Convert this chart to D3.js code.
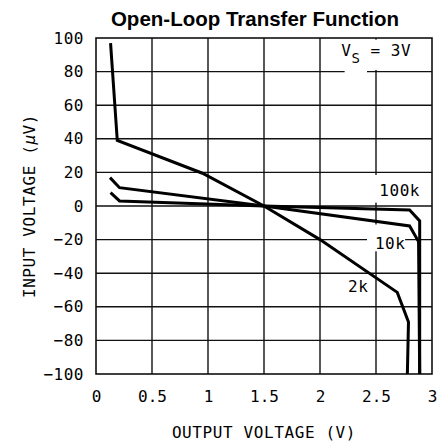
<!DOCTYPE html>
<html>
<head>
<meta charset="utf-8">
<title>Open-Loop Transfer Function</title>
<style>
  body { margin: 0; background: #fff; }
  text { font-family: "DejaVu Sans Mono", monospace; fill: #000; }
  .title { font-family: "Liberation Sans", Arial, sans-serif; font-weight: bold; }
</style>
<script src="https://cdn.jsdelivr.net/npm/d3@7"></script>
</head>
<body>
<script>
  // data (output V, input µV)
  let curveNames = ['2k', '10k', '100k'];
  let vout2k   = [0.13, 0.19, 0.95, 1.5, 2.0, 2.69, 2.79, 2.78];
  let vin2k    = [97, 39, 19.5, 0, -20, -51.4, -69, -100];
  let vout10k  = [0.125, 0.21, 1.5, 2.80, 2.88, 2.89];
  let vin10k   = [16.9, 10.9, 0, -11.9, -21.2, -100];
  let vout100k = [0.13, 0.21, 1.5, 2.80, 2.89, 2.89];
  let vin100k  = [7.9, 3, 0, -2.4, -8.9, -100];

  let xTicks = [0, 0.5, 1, 1.5, 2, 2.5, 3];
  let xTickLabels = ['0', '0.5', '1', '1.5', '2', '2.5', '3'];
  let yTicks = [-100, -80, -60, -40, -20, 0, 20, 40, 60, 80, 100];

  let W = 441, H = 446;
  let mLeft = 96, mRight = 432, mTop = 38, mBottom = 374;
  let fs = '16px';

  let svg = d3.select('body').append('svg')
    .attr('width', W).attr('height', H);

  let x = d3.scaleLinear().domain([0, 3]).range([mLeft, mRight]);
  let y = d3.scaleLinear().domain([-100, 100]).range([mBottom, mTop]);

  // grid lines
  svg.append('g').selectAll('line.v')
    .data(xTicks.slice(1, -1)).enter().append('line')
    .attr('x1', d => x(d)).attr('x2', d => x(d))
    .attr('y1', y(100)).attr('y2', y(-100))
    .attr('stroke', '#111').attr('stroke-width', 1.4);
  svg.append('g').selectAll('line.h')
    .data(yTicks.slice(1, -1)).enter().append('line')
    .attr('x1', x(0)).attr('x2', x(3))
    .attr('y1', d => y(d)).attr('y2', d => y(d))
    .attr('stroke', '#111').attr('stroke-width', 1.4);

  // frame
  svg.append('rect')
    .attr('x', x(0)).attr('y', y(100))
    .attr('width', x(3) - x(0)).attr('height', y(-100) - y(100))
    .attr('fill', 'none').attr('stroke', '#111').attr('stroke-width', 1.6);

  // white gaps behind the labels
  let gaps = [
    [2.22, 2.42, 80.5, 76.5],   // Vs label, horizontal line
    [2.46, 2.54, 99, 81],       // Vs label, vertical line
    [2.46, 2.54, 18.5, 2],      // 100k, vertical line
    [2.42, 2.76, -17.5, -23],   // 10k, horizontal line
    [2.46, 2.54, -11, -27]      // 10k, vertical line
  ];
  svg.append('g').selectAll('rect')
    .data(gaps).enter().append('rect')
    .attr('x', d => x(d[0])).attr('width', d => x(d[1]) - x(d[0]))
    .attr('y', d => y(d[2])).attr('height', d => y(d[3]) - y(d[2]))
    .attr('fill', '#fff');

  // axes
  let xAxis = d3.axisBottom(x).tickValues(xTicks).tickSize(0).tickPadding(17)
    .tickFormat((d, i) => xTickLabels[i]);
  let gx = svg.append('g').attr('transform', 'translate(0,' + mBottom + ')').call(xAxis);
  gx.select('.domain').remove();
  gx.selectAll('text').style('font-family', '"DejaVu Sans Mono", monospace').style('font-size', fs);

  let yAxis = d3.axisLeft(y).tickValues(yTicks).tickSize(0).tickPadding(12)
    .tickFormat(d => d < 0 ? '\u2212' + (-d) : '' + d);
  let gy = svg.append('g').attr('transform', 'translate(' + mLeft + ',0)').call(yAxis);
  gy.select('.domain').remove();
  gy.selectAll('text').style('font-family', '"DejaVu Sans Mono", monospace').style('font-size', fs)
    .style('letter-spacing', '0.5px');

  // curves
  let curves = [
    { name: curveNames[0], xs: vout2k, ys: vin2k },
    { name: curveNames[1], xs: vout10k, ys: vin10k },
    { name: curveNames[2], xs: vout100k, ys: vin100k }
  ];
  let line = d3.line().x(d => x(d[0])).y(d => y(d[1]));
  svg.append('g').selectAll('path')
    .data(curves).enter().append('path')
    .attr('d', c => line(c.xs.map((v, i) => [v, c.ys[i]])))
    .attr('fill', 'none').attr('stroke', '#000')
    .attr('stroke-width', 3).attr('stroke-linejoin', 'miter');

  // curve labels
  let labelPos = { '2k': [2.25, -48], '10k': [2.49, -22], '100k': [2.53, 9] };
  svg.append('g').selectAll('text')
    .data(curveNames).enter().append('text')
    .attr('x', d => x(labelPos[d][0])).attr('y', d => y(labelPos[d][1]))
    .attr('dy', '0.35em')
    .style('font-size', fs).style('letter-spacing', '0.5px')
    .text(d => d);

  // Vs = 3V
  let vs = svg.append('text').attr('x', x(2.19)).attr('y', y(89.5)).style('font-size', fs)
    .style('letter-spacing', '0.5px');
  vs.append('tspan').text('V');
  vs.append('tspan').attr('dy', 7).style('font-size', '14px').text('S');
  vs.append('tspan').attr('dy', -7).text(' = 3V');

  // titles
  svg.append('text').attr('class', 'title')
    .attr('x', 255).attr('y', 26)
    .attr('text-anchor', 'middle').style('font-size', '20.5px')
    .text('Open-Loop Transfer Function');

  svg.append('text')
    .attr('x', (mLeft + mRight) / 2).attr('y', 438)
    .attr('text-anchor', 'middle').style('font-size', fs).style('letter-spacing', '0.6px')
    .text('OUTPUT VOLTAGE (V)');

  let yt = svg.append('text')
    .attr('transform', 'translate(35,' + y(0) + ') rotate(-90)')
    .attr('text-anchor', 'middle').style('font-size', fs).style('letter-spacing', '0.6px');
  yt.append('tspan').text('INPUT VOLTAGE (');
  yt.append('tspan').style('font-style', 'italic').text('\u03bc');
  yt.append('tspan').text('V)');
</script>
</body>
</html>
